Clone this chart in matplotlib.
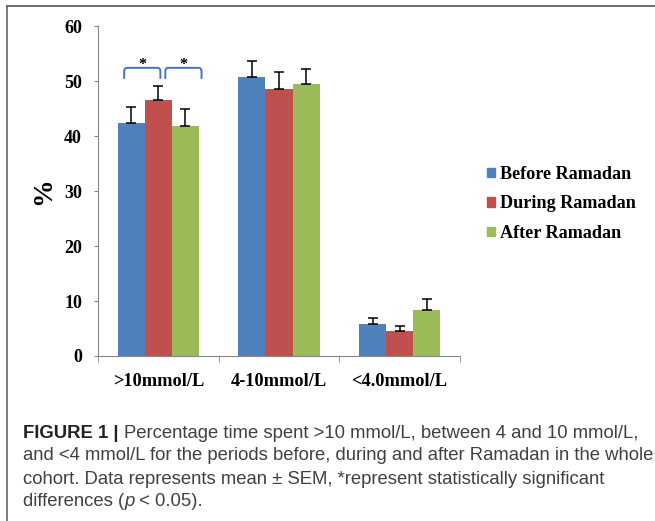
import matplotlib.pyplot as plt
from matplotlib.patches import Patch
from matplotlib.lines import Line2D
from matplotlib.path import Path
from matplotlib.patches import PathPatch
import numpy as np

categories = ['>10mmol/L', '4-10mmol/L', '<4.0mmol/L']
series = ['Before Ramadan', 'During Ramadan', 'After Ramadan']
before = [42.4, 50.8, 5.8]
during = [46.5, 48.6, 4.6]
after = [41.8, 49.5, 8.4]
before_sem = [2.8, 2.8, 1.1]
during_sem = [2.6, 3.0, 0.9]
after_sem = [3.2, 2.7, 2.0]
colors = ['#4F81BD', '#C0504D', '#9BBB59']

serif = 'Liberation Serif'
sans = 'Liberation Sans'

fig = plt.figure(figsize=(6.55, 5.21), dpi=100)
ax = fig.add_axes([0.1496, 0.3167, 0.5527, 0.6333])

x = np.arange(len(categories))
w = 0.225
for i, (vals, errs) in enumerate([(before, before_sem), (during, during_sem), (after, after_sem)]):
    pos = x + (i - 1) * w
    ax.bar(pos, vals, width=w, color=colors[i], label=series[i], zorder=2)
    ax.errorbar(pos, vals, yerr=[np.zeros(len(errs)), errs], fmt='none',
                ecolor='black', elinewidth=1.1, capsize=3.4, capthick=1.1, zorder=3)

# significance brackets in the first group
for x0, x1 in [(-0.283, 0.017), (0.058, 0.358)]:
    r = 0.025
    verts = [(x0, 50.4), (x0, 51.8), (x0, 52.4), (x0 + r, 52.4),
             (x1 - r, 52.4), (x1, 52.4), (x1, 51.8), (x1, 50.4)]
    codes = [Path.MOVETO, Path.LINETO, Path.CURVE3, Path.CURVE3,
             Path.LINETO, Path.CURVE3, Path.CURVE3, Path.LINETO]
    ax.add_patch(PathPatch(Path(verts, codes), fill=False, edgecolor='#4472C4',
                           lw=1.4, zorder=3))
    ax.text((x0 + x1) / 2, 52.1, '*', ha='center', va='baseline', fontsize=11.5,
            family=serif, fontweight='bold')

ax.set_ylim(0, 60)
ax.set_xlim(-0.5, 2.5)
ax.set_yticks(range(0, 61, 10))
ax.set_xticks(x)
ax.set_xticklabels(categories)
ax.set_xticks([-0.5, 0.5, 1.5, 2.5], minor=True)
ax.tick_params(axis='x', which='major', length=0, pad=12.5)
ax.tick_params(axis='x', which='minor', length=4, color='#868686')
ax.tick_params(axis='y', length=3, pad=8.5, color='#868686')
for lab in ax.get_xticklabels():
    lab.set_family(serif)
    lab.set_fontweight('bold')
    lab.set_fontsize(13.2)
for lab in ax.get_yticklabels():
    lab.set_family(serif)
    lab.set_fontweight('bold')
    lab.set_fontsize(13)
for s in ['top', 'right']:
    ax.spines[s].set_visible(False)
for s in ['left', 'bottom']:
    ax.spines[s].set_color('#868686')
ax.set_ylabel('%', family=serif, fontweight='bold', fontsize=20, labelpad=6)

handles = [Patch(color=c) for c in colors]
fig.legend(handles, series, loc='center left', bbox_to_anchor=(0.744, 1 - 204 / 521),
           frameon=False, prop={'family': serif, 'weight': 'bold', 'size': 13.1},
           handlelength=0.42, handleheight=0.42, handletextpad=0.3,
           labelspacing=0.68, borderpad=0, borderaxespad=0)

# figure border
fig.add_artist(Line2D([7 / 655, 1], [1 - 6 / 521, 1 - 6 / 521], color='#555555', lw=1.2))
fig.add_artist(Line2D([7 / 655, 7 / 655], [0, 1 - 6 / 521], color='#666666', lw=1.2))

# caption
cap_color = '#404040'
cx = 23 / 655
fs = 13.3
lines_y = [1 - 433 / 521, 1 - 456 / 521, 1 - 479 / 521, 1 - 502 / 521]
fig.canvas.draw()
rend = fig.canvas.get_renderer()
t = fig.text(cx, lines_y[0], 'FIGURE 1 | ', family=sans, fontweight='bold', fontsize=fs,
             color='#222222', va='center')
bb = t.get_window_extent(rend)
fig.text(bb.x1 / fig.bbox.width, lines_y[0],
         'Percentage time spent >10 mmol/L, between 4 and 10 mmol/L,',
         family=sans, fontsize=fs, color=cap_color, va='center')
fig.text(cx, lines_y[1],
         'and <4 mmol/L for the periods before, during and after Ramadan in the whole',
         family=sans, fontsize=fs, color=cap_color, va='center')
fig.text(cx, lines_y[2],
         'cohort. Data represents mean \u00b1 SEM, *represent statistically significant',
         family=sans, fontsize=fs, color=cap_color, va='center')
t = fig.text(cx, lines_y[3], 'differences (', family=sans, fontsize=fs, color=cap_color, va='center')
bb = t.get_window_extent(rend)
t = fig.text(bb.x1 / fig.bbox.width, lines_y[3], 'p', family=sans, style='italic',
             fontsize=fs, color=cap_color, va='center')
bb = t.get_window_extent(rend)
fig.text(bb.x1 / fig.bbox.width, lines_y[3], ' < 0.05).', family=sans, fontsize=fs,
         color=cap_color, va='center')

fig.savefig('out.png', dpi=100)
